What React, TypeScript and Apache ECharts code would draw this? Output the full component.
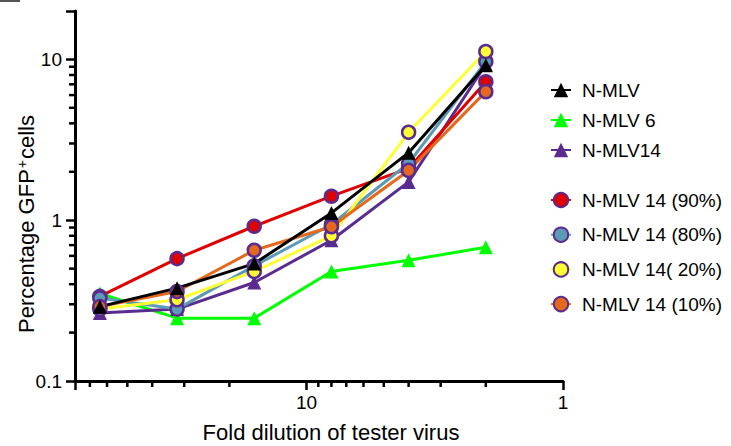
import React, { useEffect, useRef } from "react";
import * as echarts from "echarts";

// Fold dilution of tester virus (x, log, reversed)
const dilutions = [64, 32, 16, 8, 4, 2];

// Percentage GFP+ cells
const nMLV = [0.29, 0.378, 0.537, 1.11, 2.63, 9.2];
const nMLV6 = [0.35, 0.246, 0.246, 0.48, 0.563, 0.679];
const nMLV14 = [0.265, 0.28, 0.41, 0.75, 1.73, 9.3];
const nMLV14p90 = [0.336, 0.577, 0.917, 1.41, 2.1, 7.26];
const nMLV14p80 = [0.328, 0.28, 0.52, 0.94, 2.26, 9.7];
const nMLV14p20 = [0.28, 0.32, 0.48, 0.8, 3.52, 11.2];
const nMLV14p10 = [0.29, 0.36, 0.65, 0.91, 2.04, 6.3];

// axis ranges and minor tick positions
const xRange = [1, 80];
const yRange = [0.1, 20];
const yMinorTicks = [0.2, 0.3, 0.4, 0.5, 0.6, 0.7, 0.8, 0.9, 2, 3, 4, 5, 6, 7, 8, 9];
const xMinorTicks = [2, 3, 4, 5, 6, 7, 8, 9, 20, 30, 40, 50, 60, 70];

const legendGroup1 = ["N-MLV", "N-MLV 6", "N-MLV14"];
const legendGroup2 = ["N-MLV 14 (90%)", "N-MLV 14 (80%)", "N-MLV 14( 20%)", "N-MLV 14 (10%)"];

const FONT = '"Liberation Sans", Arial, sans-serif';
const PURPLE = "#5b2c8f";

function lineSeries(name: string, values: number[], color: string, symbol: string, border?: string) {
  const isTri = symbol === "triangle";
  return {
    type: "line",
    name,
    data: dilutions.map((d, i) => [d, values[i]]),
    symbol,
    symbolSize: isTri ? 14 : 13,
    showAllSymbol: true,
    lineStyle: { color, width: 3 },
    itemStyle: {
      color,
      borderColor: border || color,
      borderWidth: border ? 2.5 : 0,
      opacity: 1,
    },
    emphasis: { disabled: true },
  };
}

function isPow10(v: number) {
  const l = Math.log10(v);
  return Math.abs(l - Math.round(l)) < 1e-6;
}

function fmt(v: number) {
  if (!isPow10(v)) return "";
  return String(Number(v.toPrecision(6)));
}

export default function App() {
  const ref = useRef<HTMLDivElement>(null);
  useEffect(() => {
    if (!ref.current) return;
    const chart = echarts.init(ref.current, undefined, { renderer: "svg" });
    const legendText = {
      fontSize: 19,
      color: "#000",
      fontFamily: FONT,
      lineHeight: 20,
      padding: [0, 0, 0, 6],
    };
    const option: any = {
      animation: false,
      backgroundColor: "#fff",
      grid: { left: 75, right: 168, top: 11, bottom: 65 },
      xAxis: {
        type: "log",
        logBase: 10,
        min: xRange[0],
        max: xRange[1],
        inverse: true,
        axisLine: { lineStyle: { color: "#000", width: 3 } },
        axisTick: { length: 9, lineStyle: { color: "#000", width: 2.5 } },
        axisLabel: { formatter: fmt, color: "#000", fontSize: 19, margin: 12, fontFamily: FONT },
        splitLine: { show: false },
      },
      yAxis: {
        type: "log",
        logBase: 10,
        min: yRange[0],
        max: yRange[1],
        axisLine: { lineStyle: { color: "#000", width: 3 } },
        axisTick: { length: 9, lineStyle: { color: "#000", width: 2.5 } },
        axisLabel: { formatter: fmt, color: "#000", fontSize: 19, margin: 13, fontFamily: FONT },
        splitLine: { show: false },
      },
      legend: [
        {
          data: legendGroup1,
          orient: "vertical",
          left: 550,
          top: 80,
          padding: 0,
          itemWidth: 20,
          itemHeight: 18,
          itemGap: 10,
          selectedMode: false,
          textStyle: legendText,
        },
        {
          data: legendGroup2,
          orient: "vertical",
          left: 550,
          top: 190,
          padding: 0,
          itemWidth: 20,
          itemHeight: 18,
          itemGap: 14.7,
          selectedMode: false,
          textStyle: legendText,
        },
      ],
      graphic: [
        { type: "rect", shape: { x: 0, y: 0, width: 20, height: 2 }, style: { fill: "#555" } },
        {
          type: "text",
          x: 26,
          y: 224,
          rotation: Math.PI / 2,
          style: {
            text: "Percentage GFP{sup|+}cells",
            fontSize: 22,
            fontFamily: FONT,
            fill: "#000",
            align: "center",
            verticalAlign: "middle",
            rich: {
              sup: { fontSize: 14, fontFamily: FONT, fill: "#000", verticalAlign: "top", padding: [0, 1, 0, 1] },
            },
          },
        },
        {
          type: "text",
          x: 331,
          y: 432,
          style: {
            text: "Fold dilution of tester virus",
            fontSize: 22,
            fontFamily: FONT,
            fill: "#000",
            align: "center",
            verticalAlign: "middle",
          },
        },
      ],
      series: [
        {
          type: "custom",
          name: "yMinor",
          silent: true,
          clip: false,
          data: yMinorTicks.map((v) => [xRange[1], v]),
          renderItem: (params: any, api: any) => {
            const p = api.coord([api.value(0), api.value(1)]);
            return {
              type: "line",
              shape: { x1: p[0] - 6, y1: p[1], x2: p[0], y2: p[1] },
              style: { stroke: "#000", lineWidth: 2.5 },
            };
          },
        },
        {
          type: "custom",
          name: "xMinor",
          silent: true,
          clip: false,
          data: xMinorTicks.map((v) => [v, yRange[0]]),
          renderItem: (params: any, api: any) => {
            const p = api.coord([api.value(0), api.value(1)]);
            return {
              type: "line",
              shape: { x1: p[0], y1: p[1], x2: p[0], y2: p[1] + 6 },
              style: { stroke: "#000", lineWidth: 2.5 },
            };
          },
        },
        lineSeries("N-MLV 6", nMLV6, "#00ff00", "triangle"),
        lineSeries("N-MLV14", nMLV14, PURPLE, "triangle"),
        lineSeries("N-MLV 14 (90%)", nMLV14p90, "#e00000", "circle", PURPLE),
        lineSeries("N-MLV 14 (80%)", nMLV14p80, "#5b9bb6", "circle", PURPLE),
        lineSeries("N-MLV 14( 20%)", nMLV14p20, "#ffff33", "circle", PURPLE),
        lineSeries("N-MLV 14 (10%)", nMLV14p10, "#e4691c", "circle", PURPLE),
        lineSeries("N-MLV", nMLV, "#000000", "triangle"),
      ],
    };
    chart.setOption(option);
    return () => chart.dispose();
  }, []);
  return (
    <div
      ref={ref}
      style={{ position: "fixed", left: 0, top: 0, width: 731, height: 446, background: "#fff" }}
    />
  );
}
